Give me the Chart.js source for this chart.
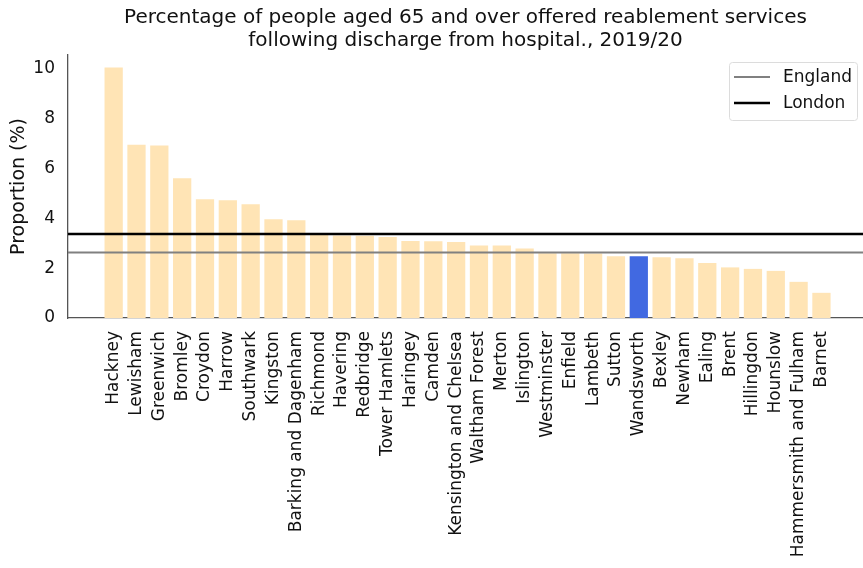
<!DOCTYPE html>
<html>
<head>
<meta charset="utf-8">
<script src="https://cdn.jsdelivr.net/npm/chart.js@4/dist/chart.umd.min.js"></script>
<style>
  html, body { margin: 0; padding: 0; background: #fff; }
  #wrap { width: 863px; height: 568px; }
</style>
</head>
<body>
<div id="wrap"><canvas id="myChart" width="863" height="568"></canvas></div>
<script>
//data
const boroughs = [
  "Hackney", "Lewisham", "Greenwich", "Bromley", "Croydon", "Harrow", "Southwark",
  "Kingston", "Barking and Dagenham", "Richmond", "Havering", "Redbridge",
  "Tower Hamlets", "Haringey", "Camden", "Kensington and Chelsea", "Waltham Forest",
  "Merton", "Islington", "Westminster", "Enfield", "Lambeth", "Sutton", "Wandsworth",
  "Bexley", "Newham", "Ealing", "Brent", "Hillingdon", "Hounslow",
  "Hammersmith and Fulham", "Barnet"
];
const proportions = [
  10.05, 6.95, 6.92, 5.61, 4.76, 4.72, 4.56, 3.96, 3.92, 3.35, 3.31, 3.30,
  3.25, 3.09, 3.08, 3.05, 2.91, 2.91, 2.79, 2.60, 2.60, 2.59, 2.48, 2.48,
  2.44, 2.40, 2.21, 2.03, 1.97, 1.89, 1.45, 1.01
];
const highlighted = "Wandsworth";
const englandValue = 2.63;
const londonValue = 3.37;
const yTicks = [0, 2, 4, 6, 8, 10];
const xRange = [-2, 32.82];
const yRange = [0, 10.55];

const FONT = "'DejaVu Sans', sans-serif";

//config
const barData = boroughs.map((b, i) => ({ x: i, y: proportions[i] }));
const barColors = boroughs.map((b) => (b === highlighted ? "#4169E1" : "#FFE4B5"));

function refLine(v) {
  return [{ x: xRange[0], y: v }, { x: xRange[1], y: v }];
}

// legend box drawn inside the plot, top right
const boxLegend = {
  id: "boxLegend",
  afterDraw(chart) {
    const ctx = chart.ctx;
    const area = chart.chartArea;
    const items = chart.data.datasets.filter((d) => d.type === "line");
    const w = 128, h = 58;
    const x0 = area.right - 6 - w, y0 = 62;
    ctx.save();
    ctx.fillStyle = "rgba(255,255,255,0.8)";
    ctx.strokeStyle = "#dcdcdc";
    ctx.lineWidth = 1;
    ctx.beginPath();
    ctx.roundRect(x0 + 0.5, y0 + 0.5, w, h, 3);
    ctx.fill();
    ctx.stroke();
    ctx.font = "17px " + FONT;
    ctx.textBaseline = "middle";
    items.forEach((d, i) => {
      const y = y0 + 15 + i * 26;
      ctx.strokeStyle = d.borderColor;
      ctx.lineWidth = d.borderWidth;
      ctx.beginPath();
      ctx.moveTo(x0 + 5, y);
      ctx.lineTo(x0 + 41, y);
      ctx.stroke();
      ctx.fillStyle = "#111";
      ctx.fillText(d.label, x0 + 54, y + 1);
    });
    ctx.restore();
  },
};

const config = {
  type: "bar",
  data: {
    datasets: [
      {
        type: "line",
        label: "England",
        data: refLine(englandValue),
        borderColor: "#808080",
        borderWidth: 2,
        pointRadius: 0,
        order: 0,
      },
      {
        type: "line",
        label: "London",
        data: refLine(londonValue),
        borderColor: "#000000",
        borderWidth: 2.5,
        pointRadius: 0,
        order: 0,
      },
      {
        label: "Proportion",
        data: barData,
        backgroundColor: barColors,
        barPercentage: 0.8,
        categoryPercentage: 1.0,
        order: 1,
      },
    ],
  },
  options: {
    responsive: false,
    animation: false,
    layout: { padding: { left: 0, right: 0, top: 0, bottom: 0 } },
    plugins: {
      legend: { display: false },
      tooltip: { enabled: false },
      title: {
        display: true,
        fullSize: false,
        text: [
          "Percentage of people aged 65 and over offered reablement services",
          "following discharge from hospital., 2019/20",
        ],
        color: "#111",
        font: { family: FONT, size: 20, weight: "normal", lineHeight: 1.15 },
        padding: { top: 6, bottom: 3 },
      },
    },
    scales: {
      x: {
        type: "linear",
        offset: false,
        min: xRange[0],
        max: xRange[1],
        grid: { display: false, drawTicks: false, offset: false },
        border: { display: true, color: "#555", width: 1.3 },
        afterBuildTicks: (scale) => {
          scale.ticks = boroughs.map((b, i) => ({ value: i }));
        },
        afterFit: (scale) => {
          scale.height = 250;
        },
        ticks: {
          autoSkip: false,
          minRotation: 90,
          maxRotation: 90,
          padding: 13,
          color: "#111",
          font: { family: FONT, size: 17 },
          callback: (v) => boroughs[v] ?? "",
        },
      },
      y: {
        min: yRange[0],
        max: yRange[1],
        grid: { display: false, drawTicks: false },
        border: { display: true, color: "#555", width: 1.3 },
        afterBuildTicks: (scale) => {
          scale.ticks = yTicks.map((v) => ({ value: v }));
        },
        afterFit: (scale) => {
          scale.width = 68;
        },
        ticks: {
          padding: 13,
          color: "#111",
          font: { family: FONT, size: 17 },
        },
        title: {
          display: true,
          text: "Proportion (%)",
          color: "#111",
          font: { family: FONT, size: 19 },
          padding: { top: 8, bottom: 0 },
        },
      },
    },
  },
  plugins: [boxLegend],
};

//chart
const myChart = new Chart(document.getElementById("myChart"), config);
</script>
</body>
</html>
